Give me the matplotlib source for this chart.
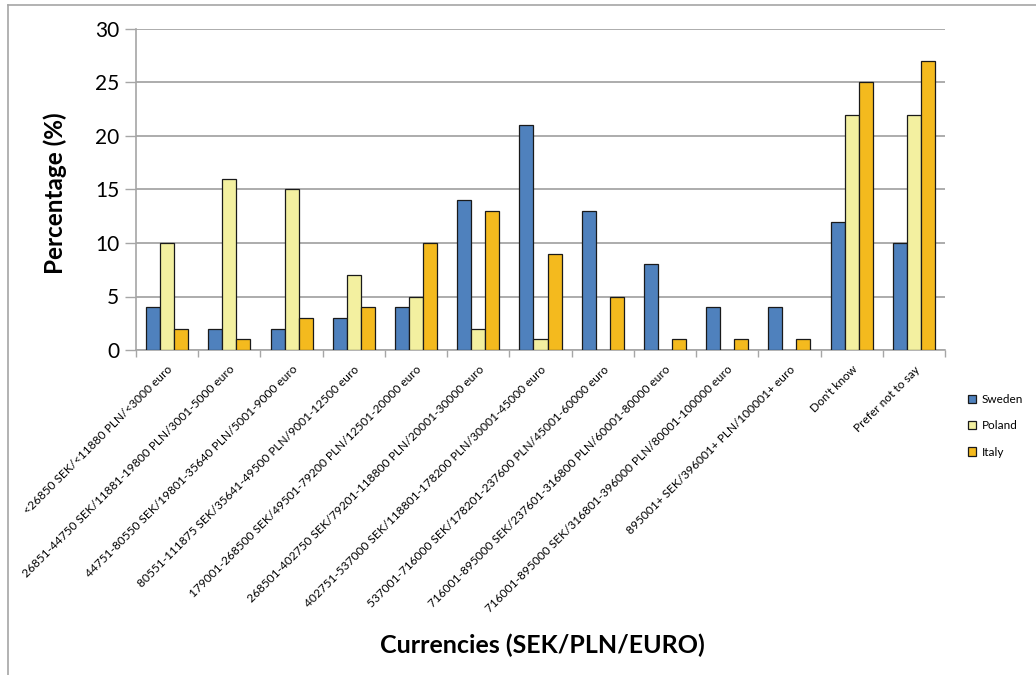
import matplotlib
matplotlib.use("Agg")
import matplotlib.pyplot as plt
import numpy as np
from matplotlib.lines import Line2D
from matplotlib.patches import Patch

plt.rcParams['font.family'] = ['Lato', 'DejaVu Sans']

categories = [
    "<26850 SEK/<11880 PLN/<3000 euro",
    "26851-44750 SEK/11881-19800 PLN/3001-5000 euro",
    "44751-80550 SEK/19801-35640 PLN/5001-9000 euro",
    "80551-111875 SEK/35641-49500 PLN/9001-12500 euro",
    "179001-268500 SEK/49501-79200 PLN/12501-20000 euro",
    "268501-402750 SEK/79201-118800 PLN/20001-30000 euro",
    "402751-537000 SEK/118801-178200 PLN/30001-45000 euro",
    "537001-716000 SEK/178201-237600 PLN/45001-60000 euro",
    "716001-895000 SEK/237601-316800 PLN/60001-80000 euro",
    "716001-895000 SEK/316801-396000 PLN/80001-100000 euro",
    "895001+ SEK/396001+ PLN/100001+ euro",
    "Don't know",
    "Prefer not to say",
]
sweden = [4, 2, 2, 3, 4, 14, 21, 13, 8, 4, 4, 12, 10]
poland = [10, 16, 15, 7, 5, 2, 1, 0, 0, 0, 0, 22, 22]
italy = [2, 1, 3, 4, 10, 13, 9, 5, 1, 1, 1, 25, 27]
series_names = ["Sweden", "Poland", "Italy"]
y_ticks = [0, 5, 10, 15, 20, 25, 30]

colors = ["#4F81BD", "#F3F0A0", "#F4BA1E"]
grid_col = "#A6A6A6"

fig = plt.figure(figsize=(10.36, 6.75), dpi=100)
W, H = 1036, 675
ax = fig.add_axes([136 / W, 1 - 350 / H, (945 - 136) / W, (350 - 29) / H])

x = np.arange(len(categories))
bw = 0.225
for i, (vals, c) in enumerate(zip([sweden, poland, italy], colors)):
    ax.bar(x + (i - 1) * bw, vals, width=bw, color=c, edgecolor="#1a1a1a",
           linewidth=0.9, zorder=3)

ax.set_xlim(-0.5, len(categories) - 0.5)
ax.set_ylim(0, 30)
ax.set_yticks(y_ticks)
ax.set_yticklabels([str(v) for v in y_ticks], fontsize=15)
ax.yaxis.grid(True, color=grid_col, linewidth=1.3, zorder=0)
ax.tick_params(axis='y', length=8, width=1, color=grid_col, pad=4)

ax.set_xticks(x)
ax.set_xticklabels(categories, rotation=45, ha='right', rotation_mode='anchor',
                   fontsize=8.6)
ax.tick_params(axis='x', which='major', length=0, pad=10)
ax.set_xticks(np.arange(-0.5, len(categories), 1.0), minor=True)
ax.tick_params(axis='x', which='minor', length=5, width=1, color=grid_col)

for s in ["top", "right"]:
    ax.spines[s].set_visible(False)
for s in ["left", "bottom"]:
    ax.spines[s].set_color(grid_col)
    ax.spines[s].set_linewidth(1.2)

fig.text(542 / W, 1 - 645 / H, "Currencies (SEK/PLN/EURO)", ha='center',
         va='center', fontsize=18, fontweight='bold')
fig.text(55 / W, 1 - 193 / H, "Percentage (%)", ha='center', va='center',
         rotation=90, fontsize=17.5, fontweight='bold')

handles = [Patch(facecolor=c, edgecolor="#1a1a1a", linewidth=0.9) for c in colors]
fig.legend(handles, series_names, loc='upper left',
           bbox_to_anchor=(962 / W, 1 - 388 / H), frameon=False, fontsize=8.5,
           handlelength=0.7, handleheight=0.7, handletextpad=0.5,
           labelspacing=1.3, borderpad=0)

# outer chart frame
fig.add_artist(Line2D([8 / W, 8 / W], [0, 1 - 5 / H], transform=fig.transFigure,
                      color=grid_col, linewidth=1.2))
fig.add_artist(Line2D([8 / W, 1], [1 - 5 / H, 1 - 5 / H], transform=fig.transFigure,
                      color=grid_col, linewidth=1.2))

fig.savefig("out.png", dpi=100)
